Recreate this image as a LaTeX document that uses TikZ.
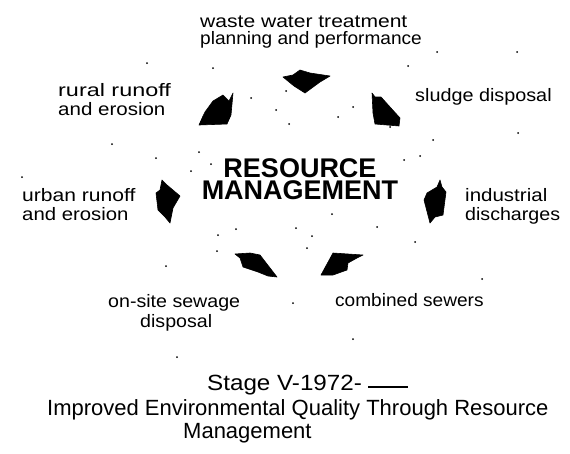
\documentclass[tikz,border=0pt]{standalone}
\usepackage{fontspec}
\newfontfamily\handfont{Liberation Sans}
\newfontfamily\boldfont{Liberation Sans Bold}
\tikzset{
  hand/.style={font=\handfont\fontsize{18}{18}\selectfont\addfontfeature{FakeStretch=#1}, anchor=base west, inner sep=0pt},
  capt/.style={font=\handfont\fontsize{22}{22}\selectfont\addfontfeature{FakeStretch=#1}, anchor=base west, inner sep=0pt},
  titl/.style={font=\boldfont\fontsize{27}{22}\selectfont, anchor=north, inner sep=0pt, align=center},
  blob/.style={fill=black, draw=black, line width=0.6pt, line join=round},
  speck/.style={fill=black}
}
\begin{document}
\begin{tikzpicture}[x=1pt,y=-1pt]
\useasboundingbox (0,0) rectangle (570,453);
% labels
\node[hand=1.17] (w1) at (200,27) {waste water treatment};
\node[hand=1.06] (w2) at (200,44) {planning and performance};
\node[hand=1.3] (r1) at (58,96) {rural runoff};
\node[hand=1.14] (r2) at (58,115) {and erosion};
\node[hand=1.1] (s1) at (415,101) {sludge disposal};
\node[hand=1.17] (u1) at (22,201) {urban runoff};
\node[hand=1.13] (u2) at (22,220) {and erosion};
\node[hand=1.14] (i1) at (465,201) {industrial};
\node[hand=1.09] (i2) at (465,220) {discharges};
\node[hand=1.06] (c1) at (335,306) {combined sewers};
\node[hand=1.09] (o1) at (108,307) {on-site sewage};
\node[hand=1.09] (o2) at (140,327) {disposal};
% title
\node[titl] (t) at (300,158) {RESOURCE\\MANAGEMENT};
% caption
\node[capt=1.1] (k1) at (207,390) {Stage V-1972-};
\draw[line width=1.5pt] (368,387) -- (408,387);
\node[capt=1.0] (k2) at (47,415) {Improved Environmental Quality Through Resource};
\node[capt=1.0] (k3) at (183,438) {Management};
% arrows
\fill[blob] (283,77) -- (293,75) -- (300,70) -- (310,73) -- (330,76) -- (320,82) -- (305,93) -- (294,86) -- cycle;
\fill[blob] (233,93) -- (229,101) -- (223,95) -- (213,101) -- (205,112) -- (203,116) -- (199,125) -- (227,124) -- (231,115) -- cycle;
\fill[blob] (372,93) -- (375,97) -- (381,97) -- (390,107) -- (400,118) -- (399,126) -- (375,124) -- (373,113) -- cycle;
\fill[blob] (162,180) -- (167,185) -- (180,196) -- (173,208) -- (170,223) -- (165,217) -- (158,210) -- (156,193) -- (160,190) -- cycle;
\fill[blob] (440,180) -- (442,187) -- (446,192) -- (443,215) -- (435,217) -- (430,223) -- (424,200) -- (427,193) -- (437,187) -- cycle;
\fill[blob] (235,254) -- (250,253) -- (260,255) -- (277,277) -- (268,276) -- (258,272) -- (243,267) -- (240,258) -- cycle;
\fill[blob] (363,255) -- (333,253) -- (321,275) -- (333,275) -- (347,270) -- (348,263) -- (357,258) -- cycle;
% specks
\foreach \p in {(213,68),(408,66),(437,52),(517,52),(147,63),(286,91),(251,98),(276,110),(353,107),(338,117),(289,124),(390,127),(112,144),(156,158),(199,152),(211,164),(191,171),(22,177),(218,235),(236,229),(296,228),(217,251),(166,266),(433,140),(518,133),(404,160),(420,156),(332,214),(377,227),(312,236),(307,248),(415,242),(482,279),(293,303),(353,339),(177,357)}
  \fill[speck] \p circle (1pt);
\end{tikzpicture}
\end{document}
